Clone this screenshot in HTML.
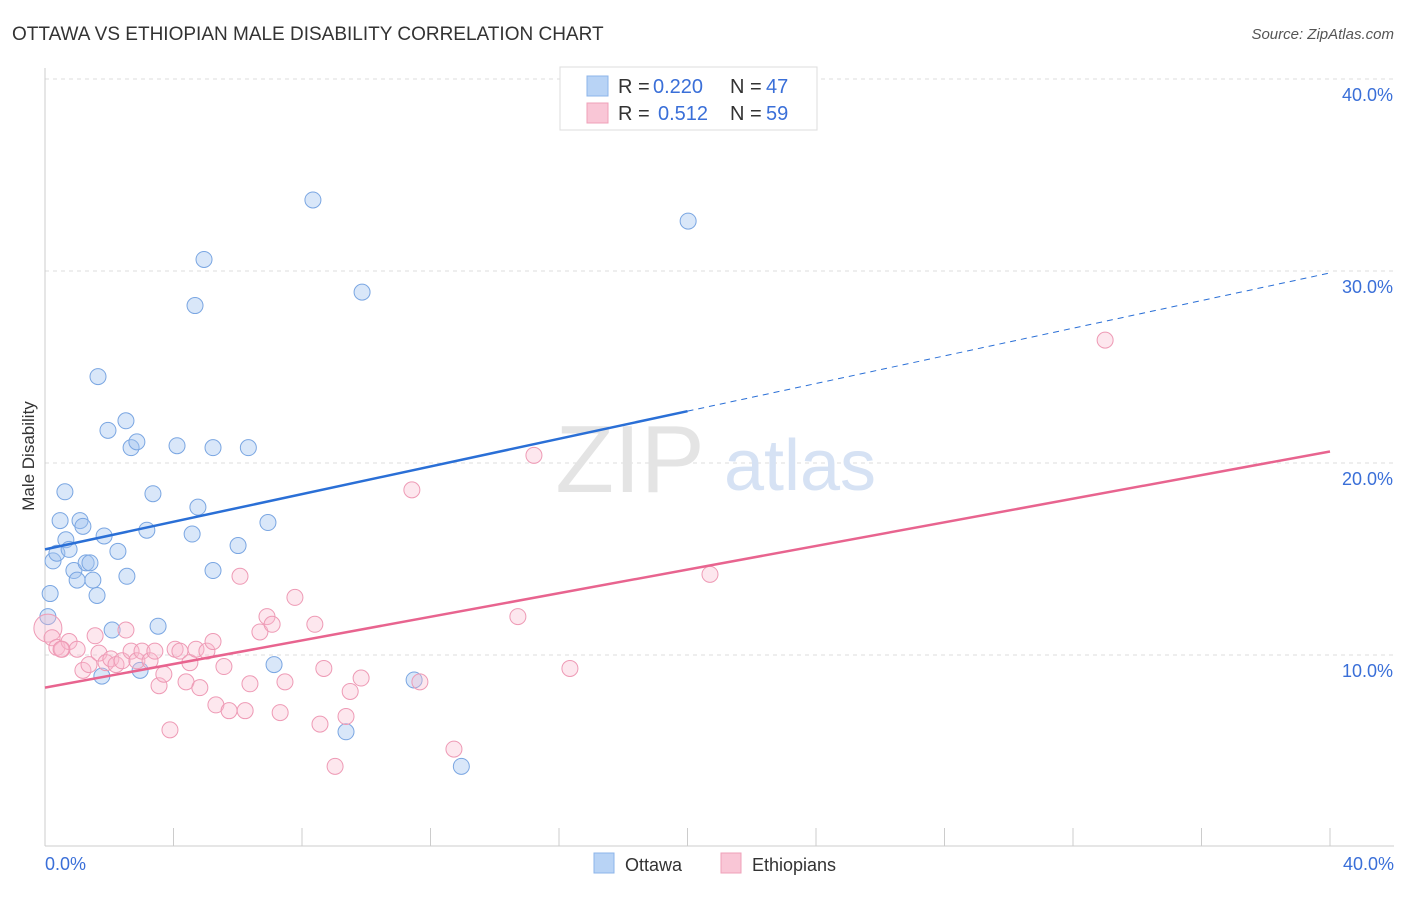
<!DOCTYPE html>
<html><head><meta charset="utf-8">
<style>
body{margin:0;background:#fff;font-family:"Liberation Sans",sans-serif;}
svg text{font-family:"Liberation Sans",sans-serif;}
</style></head>
<body>
<svg width="1406" height="892" viewBox="0 0 1406 892" xmlns="http://www.w3.org/2000/svg">
<text x="12" y="40" font-size="19" fill="#333">OTTAWA VS ETHIOPIAN MALE DISABILITY CORRELATION CHART</text>
<text x="1394" y="39" font-size="15" fill="#555" text-anchor="end" font-style="italic">Source: ZipAtlas.com</text>
<g id="grid"></g>
<line x1="45" y1="68" x2="45" y2="846" stroke="#ccc"/>
<line x1="45" y1="846" x2="1394" y2="846" stroke="#ccc"/>
<g id="xticks"></g>
<text x="630" y="492" font-size="96" fill="#e4e4e4" font-family="Liberation Serif" text-anchor="middle">ZIP</text>
<text x="800" y="490" font-size="72" fill="#d6e2f4" text-anchor="middle">atlas</text>
<text transform="translate(34,456) rotate(-90)" font-size="17" fill="#333" text-anchor="middle">Male Disability</text>
<text x="45" y="870" font-size="18" fill="#3a6fd8">0.0%</text>
<text x="1394" y="870" font-size="18" fill="#3a6fd8" text-anchor="end">40.0%</text>
<g id="pts"></g>
<g id="lines"></g>
<g>
<rect x="560" y="67" width="257" height="63" fill="#fff" stroke="#ddd"/>
<rect x="587" y="76" width="21" height="20" fill="#b8d3f5" stroke="#8cb4ea"/>
<rect x="587" y="103" width="21" height="20" fill="#f9c6d6" stroke="#efa0b8"/>
<text x="618" y="93" font-size="20" fill="#333">R =</text>
<text x="653" y="93" font-size="20" fill="#3a6fd8">0.220</text>
<text x="730" y="93" font-size="20" fill="#333">N =</text>
<text x="766" y="93" font-size="20" fill="#3a6fd8">47</text>
<text x="618" y="120" font-size="20" fill="#333">R =</text>
<text x="658" y="120" font-size="20" fill="#3a6fd8">0.512</text>
<text x="730" y="120" font-size="20" fill="#333">N =</text>
<text x="766" y="120" font-size="20" fill="#3a6fd8">59</text>
</g>
<g>
<rect x="594" y="853" width="20" height="20" fill="#b8d3f5" stroke="#8cb4ea"/>
<text x="625" y="871" font-size="18" fill="#333">Ottawa</text>
<rect x="721" y="853" width="20" height="20" fill="#f9c6d6" stroke="#efa0b8"/>
<text x="752" y="871" font-size="18" fill="#333">Ethiopians</text>
</g>
</svg>
<script>
const yTicks=[10,20,30,40];
const xTickVals=[0,4,8,12,16,20,24,28,32,36,40];
const ottawaX=[0.16,0.09,0.25,0.37,0.47,0.62,0.65,0.75,0.9,1.0,1.09,1.18,1.28,1.4,1.49,1.62,1.65,1.77,1.84,1.96,2.09,2.27,2.52,2.55,2.68,2.86,2.96,3.17,3.36,3.52,4.11,4.58,4.67,4.76,4.95,5.23,5.23,6.01,6.33,6.94,7.13,8.34,9.37,9.87,11.49,12.96,20.02];
const ottawaY=[13.2,12.0,14.9,15.3,17.0,18.5,16.0,15.5,14.4,13.9,17.0,16.7,14.8,14.8,13.9,13.1,24.5,8.9,16.2,21.7,11.3,15.4,22.2,14.1,20.8,21.1,9.2,16.5,18.4,11.5,20.9,16.3,28.2,17.7,30.6,14.4,20.8,15.7,20.8,16.9,9.5,33.7,6.0,28.9,8.7,4.2,32.6];
const ethX=[0.09,0.22,0.37,0.53,0.75,1.0,1.18,1.37,1.56,1.68,1.9,2.05,2.21,2.4,2.52,2.68,2.86,3.02,3.27,3.42,3.55,3.7,3.89,4.05,4.2,4.39,4.51,4.82,4.7,5.04,5.23,5.32,5.57,5.73,6.07,6.23,6.38,6.69,6.91,7.07,7.32,7.47,7.78,8.4,8.56,8.68,9.03,9.37,9.5,9.84,11.42,11.67,12.73,14.72,15.22,16.34,20.7,33.0,0.5];
const ethY=[11.4,10.9,10.4,10.3,10.7,10.3,9.2,9.5,11.0,10.1,9.6,9.8,9.5,9.7,11.3,10.2,9.7,10.2,9.7,10.2,8.4,9.0,6.1,10.3,10.2,8.6,9.6,8.3,10.3,10.2,10.7,7.4,9.4,7.1,14.1,7.1,8.5,11.2,12.0,11.6,7.0,8.6,13.0,11.6,6.4,9.3,4.2,6.8,8.1,8.8,18.6,8.6,5.1,12.0,20.4,9.3,14.2,26.4,10.3];
const trendO=[[0,15.5],[20,22.7],[40,29.9]];
const trendE=[[0,8.3],[40,20.6]];
const NS="http://www.w3.org/2000/svg";
const X=v=>45+v/40*1285, Y=v=>847-v*19.2;
function mk(t,a,p){const e=document.createElementNS(NS,t);for(const k in a)e.setAttribute(k,a[k]);p.appendChild(e);return e;}
const grid=document.getElementById('grid');
yTicks.forEach(t=>{
 const l=mk('line',{x1:45,x2:1394,y1:Y(t),y2:Y(t),stroke:'#ddd','stroke-dasharray':'4,4'},grid);
 
 
 const tx=mk('text',{x:1393,y:Y(t)+22,'font-size':18,fill:'#3a6fd8','text-anchor':'end'},grid);
 tx.textContent=t.toFixed(1)+'%';
 
 
});
const xt=document.getElementById('xticks');
xTickVals.forEach(t=>{
 const l=mk('line',{x1:X(t),x2:X(t),y1:828,y2:846,stroke:'#ccc'},xt);
 
 
});
const pts=document.getElementById('pts');
ottawaX.forEach((x,i)=>{
 const c=mk('circle',{cx:X(x),cy:Y(ottawaY[i]),r:8,fill:'rgba(160,195,240,0.4)',stroke:'#7aa6e2','stroke-width':1},pts);
 
 
});
ethX.forEach((x,i)=>{
 const c=mk('circle',{cx:X(x),cy:Y(ethY[i]),r:i==0?14:8,fill:'rgba(248,185,205,0.35)',stroke:'#ee9ab5','stroke-width':1},pts);
 
 
});
const ln=document.getElementById('lines');
let a=mk('line',{x1:X(trendO[0][0]),y1:Y(trendO[0][1]),x2:X(trendO[1][0]),y2:Y(trendO[1][1]),stroke:'#2a6fd6','stroke-width':2.5},ln);


a=mk('line',{x1:X(trendO[1][0]),y1:Y(trendO[1][1]),x2:X(trendO[2][0]),y2:Y(trendO[2][1]),stroke:'#2a6fd6','stroke-width':1,'stroke-dasharray':'6,5'},ln);


a=mk('line',{x1:X(trendE[0][0]),y1:Y(trendE[0][1]),x2:X(trendE[1][0]),y2:Y(trendE[1][1]),stroke:'#e8648f','stroke-width':2.5},ln);


</script>
</body></html>
